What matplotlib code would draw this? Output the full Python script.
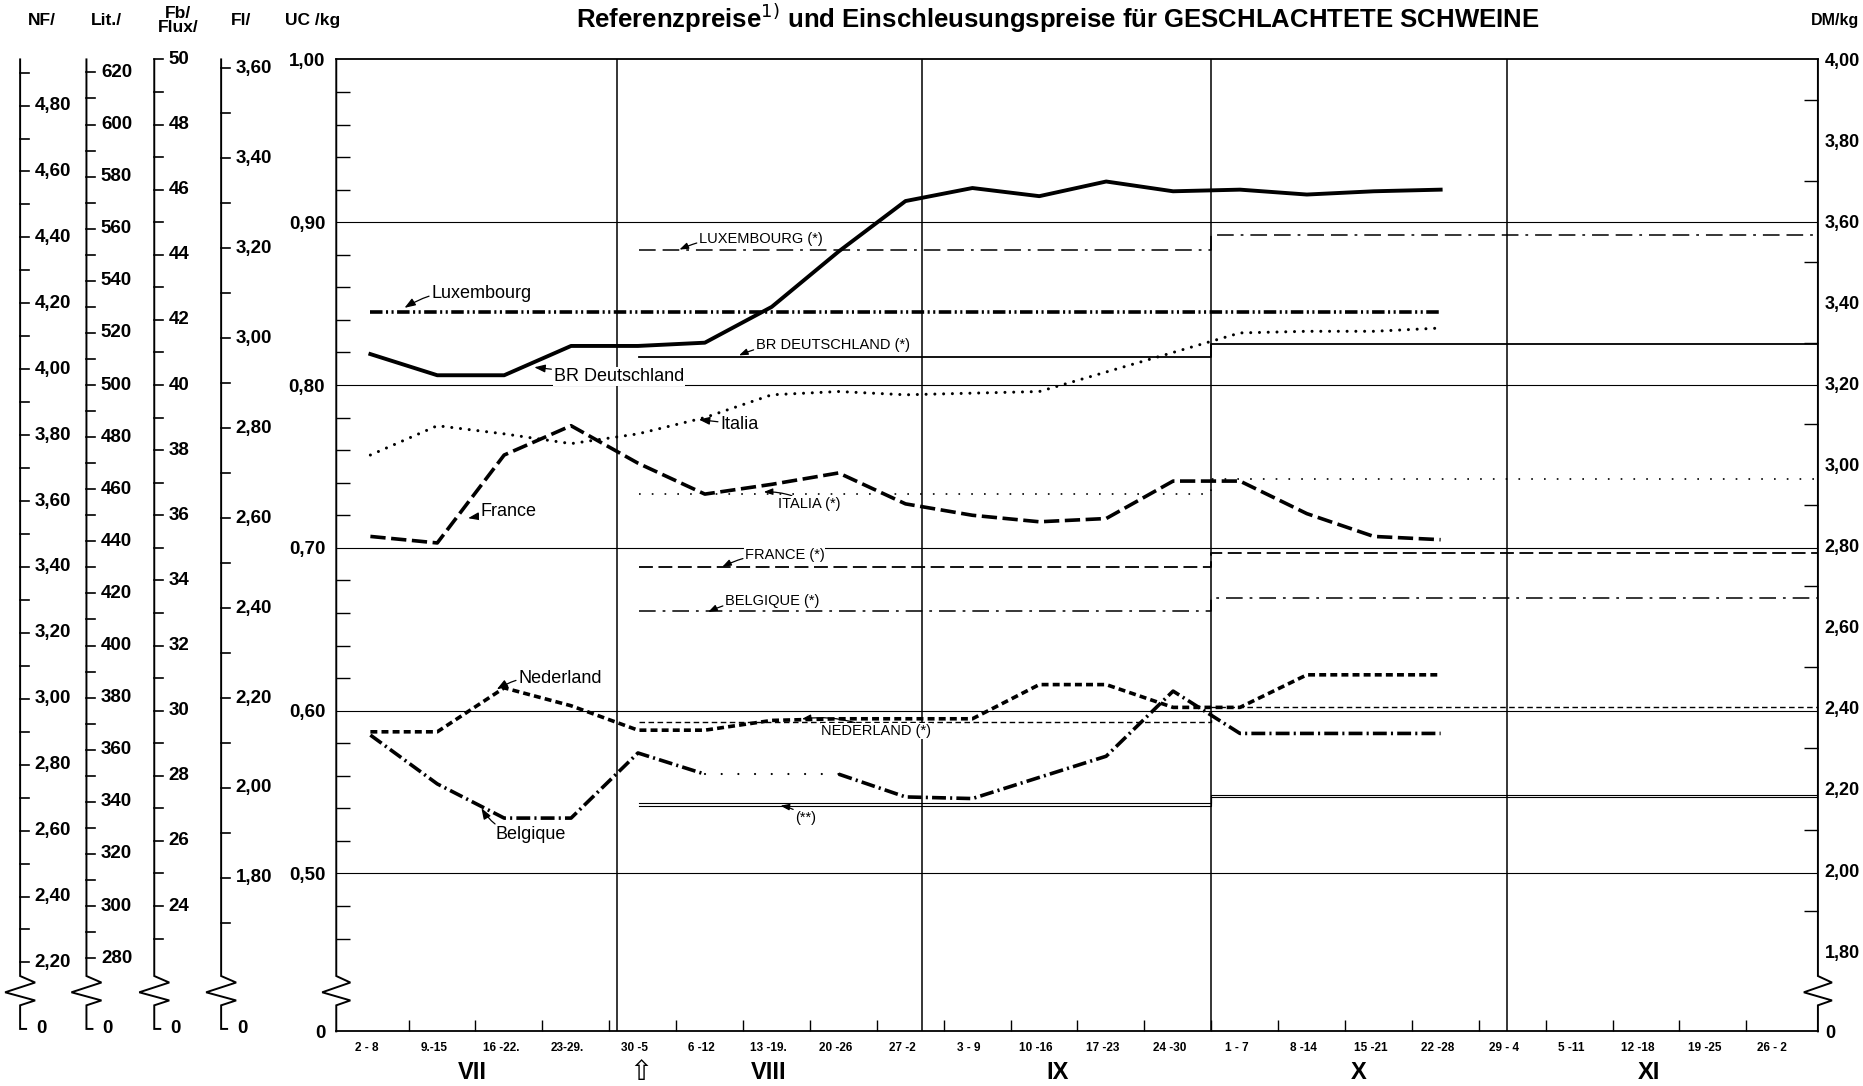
import numpy as np
import matplotlib
matplotlib.use("Agg")
import matplotlib.pyplot as plt
import matplotlib.transforms as mtransforms

plt.rcParams['font.family'] = ['Liberation Sans', 'DejaVu Sans']
plt.rcParams['lines.scale_dashes'] = False

# %% data, prices in UC/kg per week (2-8 July ... 22-28 October)
weeks = ["2 - 8", "9.-15", "16 -22.", "23-29.", "30 -5", "6 -12", "13 -19.",
         "20 -26", "27 -2", "3 - 9", "10 -16", "17 -23", "24 -30", "1 - 7",
         "8 -14", "15 -21", "22 -28", "29 - 4", "5 -11", "12 -18", "19 -25", "26 - 2"]
months = ["VII", "VIII", "IX", "X", "XI"]

br_deutschland = [0.819, 0.806, 0.806, 0.824, 0.824, 0.826, 0.848, 0.882, 0.913,
                  0.921, 0.916, 0.925, 0.919, 0.920, 0.917, 0.919, 0.920]
luxembourg = [0.845, 0.845, 0.845, 0.845, 0.845, 0.845, 0.845, 0.845, 0.845,
              0.845, 0.845, 0.845, 0.845, 0.845, 0.845, 0.845, 0.845]
italia = [0.757, 0.775, 0.770, 0.764, 0.770, 0.780, 0.794, 0.796, 0.794,
          0.795, 0.796, 0.808, 0.820, 0.832, 0.833, 0.833, 0.835]
france = [0.707, 0.703, 0.757, 0.775, 0.752, 0.733, 0.739, 0.746, 0.727,
          0.720, 0.716, 0.718, 0.741, 0.741, 0.721, 0.707, 0.705]
nederland = [0.587, 0.587, 0.614, 0.603, 0.588, 0.588, 0.594, 0.595, 0.595,
             0.595, 0.616, 0.616, 0.602, 0.602, 0.622, 0.622, 0.622]
belgique = [0.585, 0.555, 0.534, 0.534, 0.574, 0.561, np.nan, 0.561, 0.547,
            0.546, 0.559, 0.572, 0.612, 0.586, 0.586, 0.586, 0.586]

# Einschleusungspreise (*), from week 30-5, new level from 1 October
ref_names = ["LUXEMBOURG (*)", "BR DEUTSCHLAND (*)", "ITALIA (*)", "FRANCE (*)",
             "BELGIQUE (*)", "NEDERLAND (*)", "(**)"]
ref_until_sep = [0.883, 0.817, 0.733, 0.688, 0.661, 0.593, 0.543]
ref_from_oct = [0.892, 0.825, 0.742, 0.697, 0.669, 0.602, 0.548]

# national currency scales on the left (units per UC)
scale_heads = ["NF/", "Lit./", "Fb/\nFlux/", "Fl/"]
scale_per_uc = [4.94, 625.0, 50.0, 3.62]
scale_labels = [[2.2, 2.4, 2.6, 2.8, 3.0, 3.2, 3.4, 3.6, 3.8, 4.0, 4.2, 4.4, 4.6, 4.8],
                [280, 300, 320, 340, 360, 380, 400, 420, 440, 460, 480, 500, 520, 540, 560, 580, 600, 620],
                [24, 26, 28, 30, 32, 34, 36, 38, 40, 42, 44, 46, 48, 50],
                [1.8, 2.0, 2.2, 2.4, 2.6, 2.8, 3.0, 3.2, 3.4, 3.6]]
scale_decimals = [2, 0, 0, 2]
uc_labels = [0.5, 0.6, 0.7, 0.8, 0.9, 1.0]
dm_labels = [1.8, 2.0, 2.2, 2.4, 2.6, 2.8, 3.0, 3.2, 3.4, 3.6, 3.8, 4.0]
DM_PER_UC = 4.0

# %% layout
YMIN, YMAX = 0.403, 1.0
XMIN, XMAX = -0.08, 22.07
month_lines = [4.11, 8.68, 13.0, 17.42]
month_pos = [1.96, 6.39, 10.71, 15.2, 19.55]
scale_x = [0.0108, 0.0464, 0.0828, 0.1187]
ZIG_TOP = 0.437
FS_TICK = 13.5

fig = plt.figure(figsize=(18.63, 10.86), dpi=100)
ax = fig.add_axes([0.1805, 0.0503, 0.7953, 0.895])
ax.set_autoscale_on(False)
ax.set_xlim(XMIN, XMAX)
ax.set_ylim(YMIN, YMAX)

xw = np.arange(len(br_deutschland)) + 0.43

for v in [0.5, 0.6, 0.7, 0.8, 0.9]:
    ax.axhline(v, color='k', lw=0.8, zorder=1)
for x in month_lines:
    ax.axvline(x, color='k', lw=1.1, zorder=1)

# reference (sluice-gate) price steps
ref_styles = [dict(ls=(0, (12, 5, 12, 5, 2, 5)), lw=1.1),
              dict(ls='-', lw=1.3),
              dict(ls=(0, (1.2, 8)), lw=1.2),
              dict(ls=(0, (10, 4)), lw=1.3),
              dict(ls=(0, (12, 5, 2, 5)), lw=1.1),
              dict(ls=(0, (4, 2.5)), lw=1.0),
              dict(ls='-', lw=0.8)]
for a, b, st in zip(ref_until_sep, ref_from_oct, ref_styles):
    ax.plot([4.45, 13.0, XMAX], [a, b, b], drawstyle='steps-post', color='k', zorder=2, **st)
# (**) is a double line
ax.plot([4.45, 13.0, XMAX], [ref_until_sep[-1] - 0.0013, ref_from_oct[-1] - 0.0013, ref_from_oct[-1] - 0.0013],
        drawstyle='steps-post', color='k', lw=0.8, zorder=2)

# market prices
ax.plot(xw, br_deutschland, color='k', lw=2.8, solid_joinstyle='round', zorder=4)
ax.plot(xw, luxembourg, color='k', lw=2.6, ls=(0, (9, 2.5, 1.5, 2.5, 1.5, 2.5)), zorder=4)
ax.plot(xw, italia, color='k', lw=2.2, ls=(0, (0.01, 6.3)), dash_capstyle='round', zorder=4)
ax.plot(xw, france, color='k', lw=2.6, ls=(0, (11, 4)), zorder=4)
ax.plot(xw, nederland, color='k', lw=2.6, ls=(0, (5, 3)), zorder=4)
ax.plot(xw, belgique, color='k', lw=2.6, ls=(0, (10, 3, 1.5, 3)), zorder=4)
ax.plot(xw[5:8], [belgique[5], belgique[5], belgique[7]], color='k', lw=1.6,
        ls=(0, (0.01, 12)), dash_capstyle='round', zorder=4)


def label(text, xy_text, xy_tip, size, rad=0.0):
    ax.annotate(text, xy=xy_tip, xytext=xy_text, ha='left', va='center', fontsize=size,
                zorder=3, bbox=dict(boxstyle='square,pad=0.05', fc='white', ec='none'),
                arrowprops=dict(arrowstyle='-|>,head_length=0.5,head_width=0.18', lw=0.9,
                                color='k', shrinkA=1, shrinkB=0,
                                connectionstyle=f'arc3,rad={rad}'))


label("Luxembourg", (1.34, 0.8562), (0.94, 0.8474), 13, 0.2)
label("BR Deutschland", (3.17, 0.8051), (2.88, 0.8109), 13)
label("Italia", (5.66, 0.7759), (5.34, 0.7788), 13)
label("France", (2.07, 0.7226), (1.89, 0.7182), 13)
label("Nederland", (2.64, 0.6197), (2.32, 0.6131), 13, 0.2)
label("Belgique", (2.30, 0.5241), (2.09, 0.5401), 13, -0.3)
ref_text_pos = [(5.34, 0.8898), (6.19, 0.8248), (6.53, 0.727), (6.03, 0.6956),
                (5.73, 0.6672), (7.17, 0.5876), (6.78, 0.5343)]
ref_tip_pos = [(5.05, 0.8832), (5.94, 0.8182), (6.31, 0.7343), (5.69, 0.6883),
               (5.48, 0.6606), (6.88, 0.5949), (6.56, 0.5416)]
for name, pt, tip in zip(ref_names, ref_text_pos, ref_tip_pos):
    label(name, pt, tip, 10.5, 0.15)

# %% axes: ticks, spines with breaks
for s in ['left', 'right']:
    ax.spines[s].set_visible(False)
for s in ['top', 'bottom']:
    ax.spines[s].set_linewidth(1.3)

ax.set_yticks([YMIN] + uc_labels, ["0"] + [f"{v:.2f}".replace('.', ',') for v in uc_labels],
              fontsize=FS_TICK, fontweight='bold')
ax.set_yticks(np.arange(0.46, 0.99, 0.02), minor=True)
ax.tick_params(axis='y', which='both', direction='in', length=10, width=1, pad=8)
ax.tick_params(axis='y', which='major', length=0)
ax.set_xticks(np.arange(len(weeks)) + 0.38, weeks, fontsize=8.5, fontweight='bold')
ax.set_xticks(np.arange(1, len(weeks)), minor=True)
ax.tick_params(axis='x', which='major', length=0, pad=8)
ax.tick_params(axis='x', which='minor', direction='in', length=8, width=1)

ax2 = ax.twinx()
dm_off = 0.0025
ax2.set_ylim((YMIN - dm_off) * DM_PER_UC, (YMAX - dm_off) * DM_PER_UC)
ax2.set_yticks([(YMIN - dm_off) * DM_PER_UC] + dm_labels,
               ["0"] + [f"{v:.2f}".replace('.', ',') for v in dm_labels],
               fontsize=13, fontweight='bold')
ax2.set_yticks(np.arange(1.9, 4.0, 0.2), minor=True)
ax2.tick_params(axis='y', which='both', direction='in', length=10, width=1, pad=5)
ax2.tick_params(axis='y', which='major', length=0)
for s in ax2.spines.values():
    s.set_visible(False)


def broken_axis(tr, x0, a, top, bottom, foot=0.0):
    xs = [x0, x0, x0 + a, x0 - a, x0 + a, x0, x0, x0 + foot]
    ys = [top, ZIG_TOP, ZIG_TOP - 0.004, ZIG_TOP - 0.010, ZIG_TOP - 0.015, ZIG_TOP - 0.018, bottom, bottom]
    ax.plot(xs, ys, color='k', lw=1.4, transform=tr, clip_on=False, zorder=5,
            solid_joinstyle='miter')


tr_ax = mtransforms.blended_transform_factory(ax.transAxes, ax.transData)
broken_axis(tr_ax, 0.0, 0.0095, YMAX, YMIN)
broken_axis(tr_ax, 1.0, 0.0095, YMAX, YMIN)

# left currency scales
tr_fig = mtransforms.blended_transform_factory(fig.transFigure, ax.transData)
tick_w = 9 / 1863
for x0, per_uc, vals, dec, head in zip(scale_x, scale_per_uc, scale_labels, scale_decimals, scale_heads):
    broken_axis(tr_fig, x0, 15 / 1863, 1.0, YMIN + 0.0015, 6 / 1863)
    step = (vals[1] - vals[0]) / 2
    for v in np.arange(vals[0] - step, vals[-1] + 1.5 * step, step):
        uc = v / per_uc
        if 0.442 < uc < 1.001:
            ax.plot([x0, x0 + tick_w], [uc, uc], color='k', lw=1.2, transform=tr_fig, clip_on=False)
    for v in vals:
        txt = f"{v:.{dec}f}".replace('.', ',')
        fig.text(x0 + 14.5 / 1863, v / per_uc, txt, transform=tr_fig, ha='left', va='center',
                 fontsize=FS_TICK, fontweight='bold')
    fig.text(x0 + 16 / 1863, YMIN + 0.0015, "0", transform=tr_fig, ha='left', va='center',
             fontsize=FS_TICK, fontweight='bold')

# headers
head_x = [0.0223, 0.0574, 0.0957, 0.1295]
for hx, head in zip(head_x, scale_heads):
    fig.text(hx, 0.981, head, ha='center', va='center', fontsize=12.5, fontweight='bold',
             linespacing=0.95)
fig.text(0.168, 0.981, "UC /kg", ha='center', va='center', fontsize=12.5, fontweight='bold')
fig.text(0.985, 0.981, "DM/kg", ha='center', va='center', fontsize=11.5, fontweight='bold')
fig.text(0.5676, 0.9836,
         "Referenzpreise$^{1)}$ und Einschleusungspreise für GESCHLACHTETE SCHWEINE",
         ha='center', va='center', fontsize=18.5, fontweight='bold')

# months
tr_mon = mtransforms.blended_transform_factory(ax.transData, ax.transAxes)
for mx, m in zip(month_pos, months):
    ax.text(mx, -0.042, m, transform=tr_mon, ha='center', va='center', fontsize=17,
            fontweight='bold')
ax.text(4.47, -0.042, "⇧", transform=tr_mon, ha='center', va='center', fontsize=20,
        family='DejaVu Sans')

fig.savefig("out.png", dpi=100, facecolor='white')
